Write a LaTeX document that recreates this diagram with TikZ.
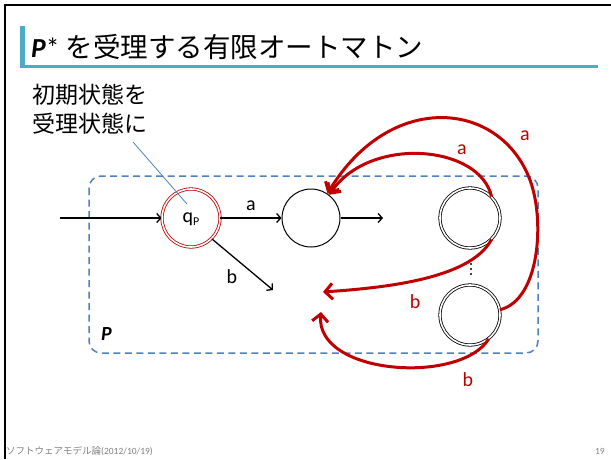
\documentclass[tikz,border=0pt]{standalone}
\usepackage{fontspec}
\setmainfont{Carlito}
\newfontfamily\jp{Noto Sans CJK JP}
\usetikzlibrary{arrows.meta}
\definecolor{accent}{HTML}{4BACC6}
\definecolor{boxblue}{HTML}{4F81BD}
\definecolor{darkred}{HTML}{C00000}
\definecolor{footgray}{HTML}{808080}
\tikzset{
  state/.style={circle,draw,line width=1pt,minimum size=58pt,inner sep=0pt},
  accstate/.style={circle,draw,double,double distance=1.6pt,line width=0.8pt,minimum size=58pt,inner sep=0pt},
  blk/.style={line width=1.3pt,-{Straight Barb[length=4pt,width=9pt]}},
  redarr/.style={draw=darkred,line width=3pt,-{Straight Barb[length=7.5pt,width=16pt]}},
  lbl/.style={font=\fontsize{20}{20}\selectfont,inner sep=0pt},
  redlbl/.style={lbl,text=darkred},
}
\begin{document}
\begin{tikzpicture}[x=1pt,y=-1pt]
\useasboundingbox (0,0) rectangle (611,459);
% slide frame
\draw[line width=2.5pt] (5,459) -- (5,5) -- (611,5);
% title
\fill[accent] (19.5,26) rectangle (25,67);
\fill[accent] (19.5,65) rectangle (598,67.5);
\node[anchor=base west,inner sep=0pt] (title) at (31,57)
  {\fontsize{27.5}{27.5}\selectfont\textbf{\textit{P}}* {\jp を受理する有限オートマトン}};
% callout
\node[anchor=north west,inner sep=0pt,align=left,font=\jp\fontsize{23}{29}\selectfont] (note) at (32,84) {初期状態を\\受理状態に};
% box P
\draw[boxblue,line width=1.5pt,dash pattern=on 7pt off 4.5pt,rounded corners=12pt] (89,176) rectangle (538,353);
\node[anchor=base west,inner sep=0pt,font=\fontsize{20}{20}\selectfont\bfseries\itshape] (plabel) at (101,340) {P};
% states
\node[accstate,draw=darkred] (qp) at (191,218) {};
\node[inner sep=0pt,font=\fontsize{20}{20}\selectfont] (qptext) at (191,219) {q\raisebox{-3pt}{\fontsize{12}{12}\selectfont P}};
\node[state] (mid) at (311,218) {};
\node[accstate,minimum size=60pt] (tr) at (470,218) {};
\node[accstate,minimum size=60pt] (br) at (470,315) {};
% dots
\fill (471,264) circle (1.1pt) (471,269) circle (1.1pt) (471,274) circle (1.1pt);
% callout line
\coordinate (cs) at (133,142);
\coordinate (ce) at (187,204);
\draw[boxblue,line width=0.8pt] (cs) -- (ce);
% black arrows
\coordinate (start) at (60,218);
\coordinate (bend) at (273,290);
\coordinate (mend) at (383,218);
\draw[blk] (start) -- (qp.west);
\draw[blk] (qp.east) -- node[lbl,above=7pt] (la) {a} (mid.west);
\draw[blk] (qp.-45) -- (bend);
\node[lbl] (lb) at (232,277) {b};
\draw[blk] (mid.east) -- (mend);
% red arrows
\coordinate (redb1) at (323,292);
\coordinate (redb2) at (321,312);
\draw[redarr] (tr.45) .. controls (480,145) and (370,135) .. (mid.52);
\draw[redarr] (br.10) .. controls (540,300) and (545,220) .. (530,180) .. controls (500,100) and (390,90) .. (mid.56);
\draw[redarr] (tr.-45) .. controls (470,280) and (380,288) .. (redb1);
\draw[redarr] (br.-52) .. controls (460,385) and (315,375) .. (redb2);
\node[redlbl] (ra1) at (462,150) {a};
\node[redlbl] (ra2) at (525,136) {a};
\node[redlbl] (rb1) at (415,302) {b};
\node[redlbl] (rb2) at (468,380) {b};
% footer
\node[anchor=base west,inner sep=0pt,text=footgray,font=\fontsize{9.5}{9.5}\selectfont] (foot) at (6,454) {{\jp ソフトウェアモデル論}(2012/10/19)};
\node[anchor=base east,inner sep=0pt,text=footgray,font=\fontsize{9.5}{9.5}\selectfont] (page) at (605,454) {19};
\end{tikzpicture}
\end{document}
